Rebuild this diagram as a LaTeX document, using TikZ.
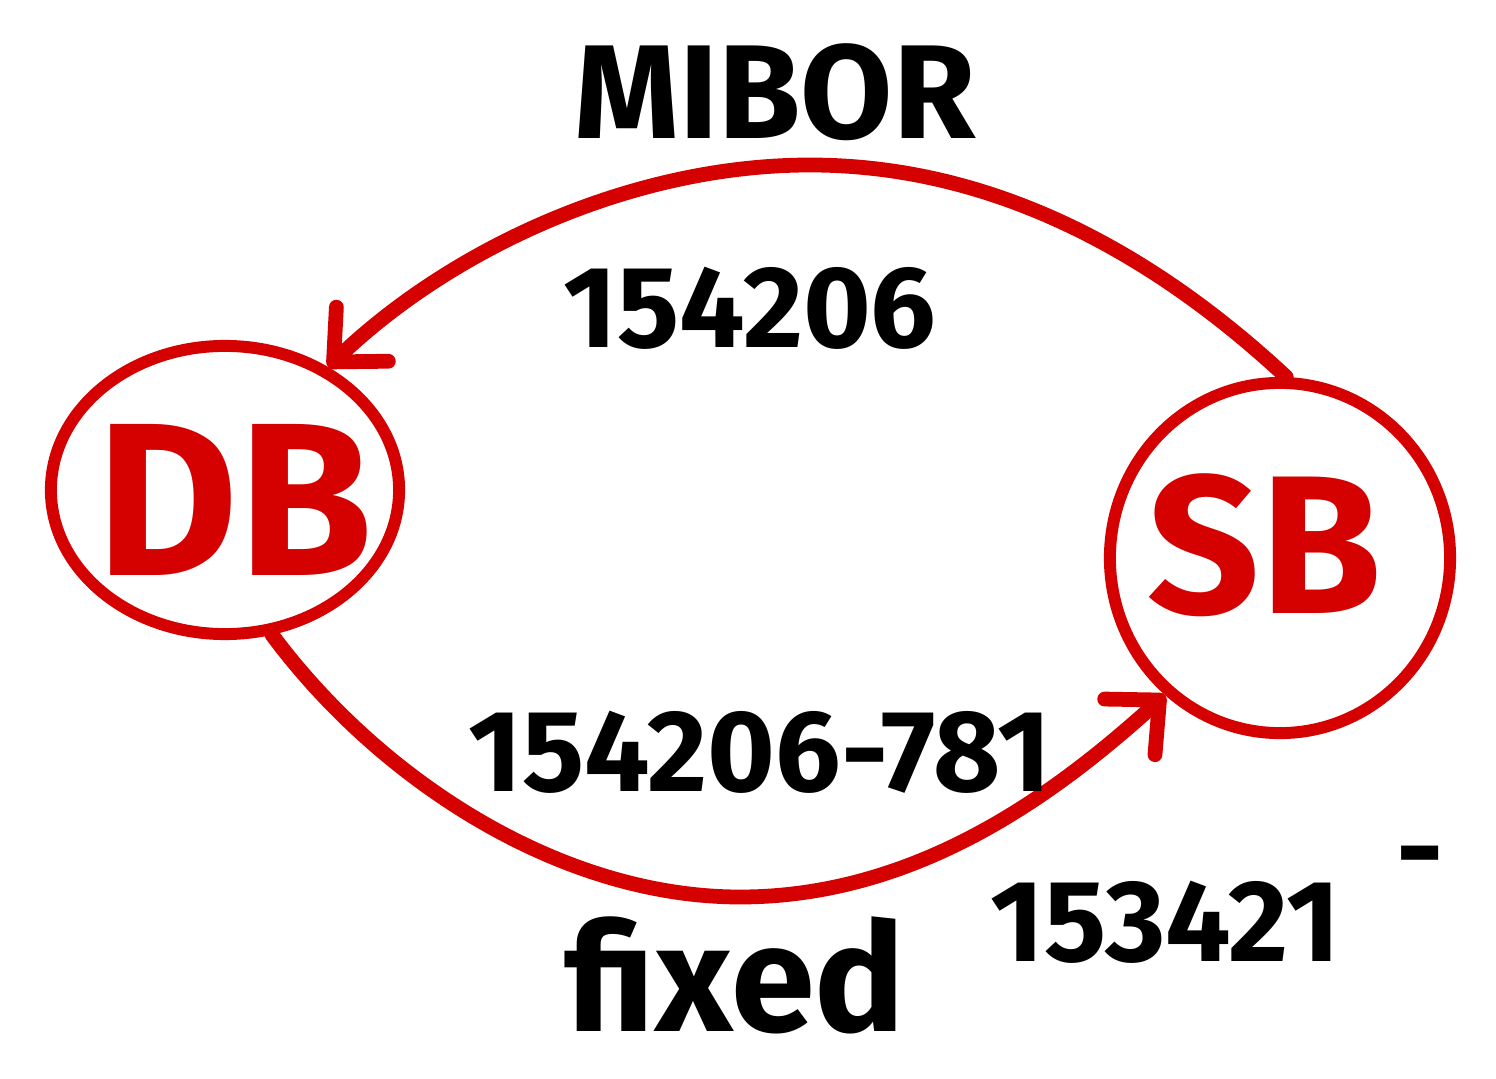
\documentclass[tikz,border=0pt]{standalone}
\usepackage{fontspec}
\setmainfont{Fira Sans}
\usetikzlibrary{arrows.meta,shapes.geometric}
\definecolor{inkred}{HTML}{D50000}
\begin{document}
\begin{tikzpicture}[x=0.01cm,y=-0.01cm,
  bank/.style={draw=inkred, line width=3.4pt, ellipse, inner sep=0pt},
  banklabel/.style={text=inkred, inner sep=0pt, font=\fontsize{#1}{#1}\selectfont\bfseries},
  ink/.style={text=black, inner sep=0pt, font=\fontsize{#1}{#1}\selectfont\bfseries},
  flow/.style={draw=inkred, line width=4.2pt, line cap=round,
    -{Straight Barb[length=4mm,width=7.5mm,line width=4.2pt,line cap=round,line join=round]}}]
\useasboundingbox (0,0) rectangle (1496,1079);

% the two banks
\node[bank, minimum width=3.48cm, minimum height=2.88cm] (db) at (225,490) {};
\node[bank, minimum width=3.40cm, minimum height=3.50cm] (sb) at (1280,558) {};
\node[banklabel=62] (dbtext) at (235,500) {DB};
\node[banklabel=56] (sbtext) at (1265,545) {SB};

% MIBOR leg: SB pays DB
\draw[flow] (sb.88) .. controls (1150,250) and (990,165) .. (810,165)
  .. controls (630,165) and (450,250) .. (db.50);
% fixed leg: DB pays SB
\draw[flow] (db.-72) .. controls (380,780) and (560,897) .. (740,897)
  .. controls (920,897) and (1060,790) .. (sb.230);

% labels
\node[ink=38] (mibor) at (775,92) {MIBOR};
\node[ink=33] (amtA) at (750,308) {154206};
\node[ink=33] (amtB) at (760,752) {154206-781};
\node[ink=43] (fixed) at (735,975) {fixed};
\node[ink=33] (amtC) at (1165,922) {153421};
\node[ink=33] (dash) at (1420,868) {-};
\end{tikzpicture}
\end{document}
